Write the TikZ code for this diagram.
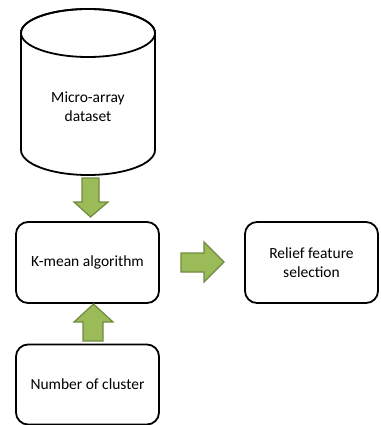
\documentclass[tikz,border=0pt]{standalone}
\usepackage{fontspec}
\setmainfont{Carlito}
\definecolor{arrfill}{HTML}{9BBB59}
\definecolor{arrdraw}{HTML}{71893F}
\begin{document}
\begin{tikzpicture}[x=1pt,y=-1pt,
  box/.style={draw=black,line width=1.8pt,rounded corners=12pt,fill=white,align=center,font=\fontsize{15.5}{19}\selectfont},
  fatarrow/.style={fill=arrfill,draw=arrdraw,line width=1.2pt,line join=miter},
  lbl/.style={align=center,font=\fontsize{15.5}{19}\selectfont}]
\useasboundingbox (0,0) rectangle (380,425);
% cylinder
\draw[line width=1.8pt,fill=white] (21,33) -- (21,150) arc[start angle=180,end angle=0,x radius=67,y radius=25] -- (155,33) arc[start angle=0,end angle=-180,x radius=67,y radius=24] -- cycle;
\draw[line width=1.8pt] (88,33) ellipse[x radius=67,y radius=24];
\node[lbl] (db) at (88,107) {Micro-array\\dataset};
% boxes
\node[box,minimum width=143pt,minimum height=81pt] (km) at (87.5,262.5) {K-mean algorithm};
\node[box,minimum width=133pt,minimum height=81pt] (rf) at (311.5,262.5) {Relief feature\\selection};
\node[box,minimum width=143pt,minimum height=80pt] (nc) at (87.5,384.5) {Number of cluster};
% arrows
\draw[fatarrow] (82,178) -- (99,178) -- (99,202) -- (108,202) -- (90.5,217) -- (74,202) -- (82,202) -- cycle;
\draw[fatarrow] (181,253) -- (204,253) -- (204,242) -- (224,262) -- (204,282) -- (204,272) -- (181,272) -- cycle;
\draw[fatarrow] (83,341) -- (103,341) -- (103,322) -- (113,322) -- (93.5,304) -- (74,322) -- (83,322) -- cycle;
\end{tikzpicture}
\end{document}
